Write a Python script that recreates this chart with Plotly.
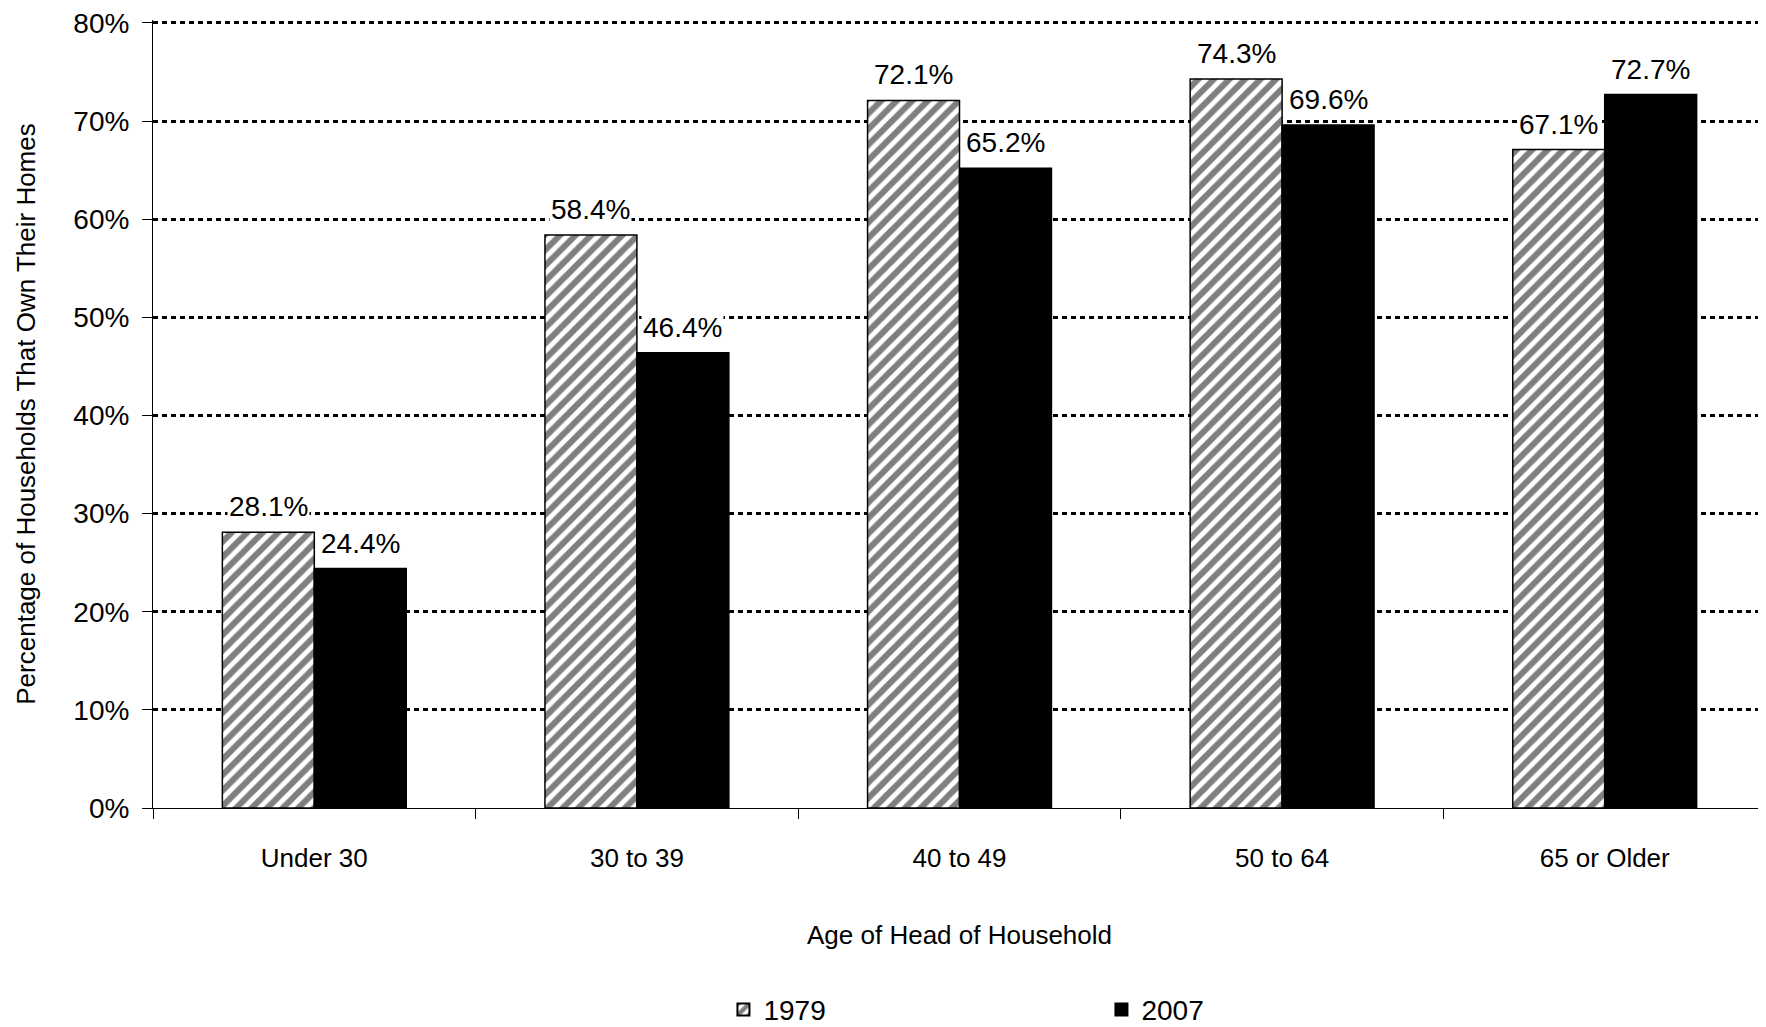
import plotly.graph_objects as go

categories = ["Under 30", "30 to 39", "40 to 49", "50 to 64", "65 or Older"]
values_1979 = [28.1, 58.4, 72.1, 74.3, 67.1]
values_2007 = [24.4, 46.4, 65.2, 69.6, 72.7]
y_ticks = [0, 10, 20, 30, 40, 50, 60, 70, 80]
y_tick_labels = [f"{v}%" for v in y_ticks]

FONT = "Liberation Sans, Arial, sans-serif"
# page body has an 8px default margin, so the figure is 8px smaller than the window
W, H = 1758, 1019
ML, MR, MT, MB = 145, 0, 12, 219
BARGAP = 0.43

fig = go.Figure()
fig.add_trace(go.Bar(
    x=categories, y=values_1979, name="1979",
    marker=dict(color="white", line=dict(color="black", width=1.5),
                pattern=dict(shape="/", fgcolor="black", bgcolor="white", size=11, solidity=0.55)),
))
fig.add_trace(go.Bar(
    x=categories, y=values_2007, name="2007",
    marker=dict(color="black", line=dict(color="black", width=1.5)),
))

# data labels (white background breaks the gridlines like the original)
cat_px = (W - ML - MR) / len(categories)
bar_px = cat_px * (1 - BARGAP) / 2
for vals, shift in ((values_1979, -bar_px / 2), (values_2007, bar_px / 2)):
    for c, v in zip(categories, vals):
        fig.add_annotation(
            x=c, y=v, text=f"{v:.1f}%", showarrow=False,
            xshift=shift, yshift=8, yanchor="bottom",
            bgcolor="white", borderpad=1,
            font=dict(size=28, color="black", family=FONT),
        )

fig.update_layout(
    width=W, height=H,
    margin=dict(l=ML, r=MR, t=MT, b=MB, autoexpand=False),
    plot_bgcolor="white", paper_bgcolor="white",
    barmode="group", bargap=BARGAP, bargroupgap=0,
    font=dict(family=FONT, size=26, color="black"),
    legend=dict(orientation="h", x=0.588, xanchor="center", y=-0.256, yanchor="middle",
                font=dict(size=28), entrywidth=333, entrywidthmode="pixels",
                itemsizing="constant"),
)
fig.update_xaxes(
    automargin=False,
    showline=True, linecolor="black", linewidth=1,
    ticks="outside", ticklen=10, tickcolor="black", tickson="boundaries",
    ticklabelstandoff=27,
    showgrid=False,
    title=dict(text="Age of Head of Household", font=dict(size=26), standoff=53),
    tickfont=dict(size=26),
)
fig.update_yaxes(
    automargin=False,
    # a hair above 80 so plotly keeps the 80% gridline, which it drops on the plot edge
    range=[0, 80.3], tickvals=y_ticks, ticktext=y_tick_labels,
    ticklabeloverflow="allow",
    showline=True, linecolor="black", linewidth=1,
    ticks="outside", ticklen=10, tickcolor="black",
    ticklabelstandoff=7,
    showgrid=True, gridcolor="black", gridwidth=2.5, griddash="5px,4px",
    zeroline=False,
    title=dict(text="Percentage of Households That Own Their Homes", font=dict(size=26), standoff=30),
    tickfont=dict(size=28),
)

fig.write_html("out.html")
